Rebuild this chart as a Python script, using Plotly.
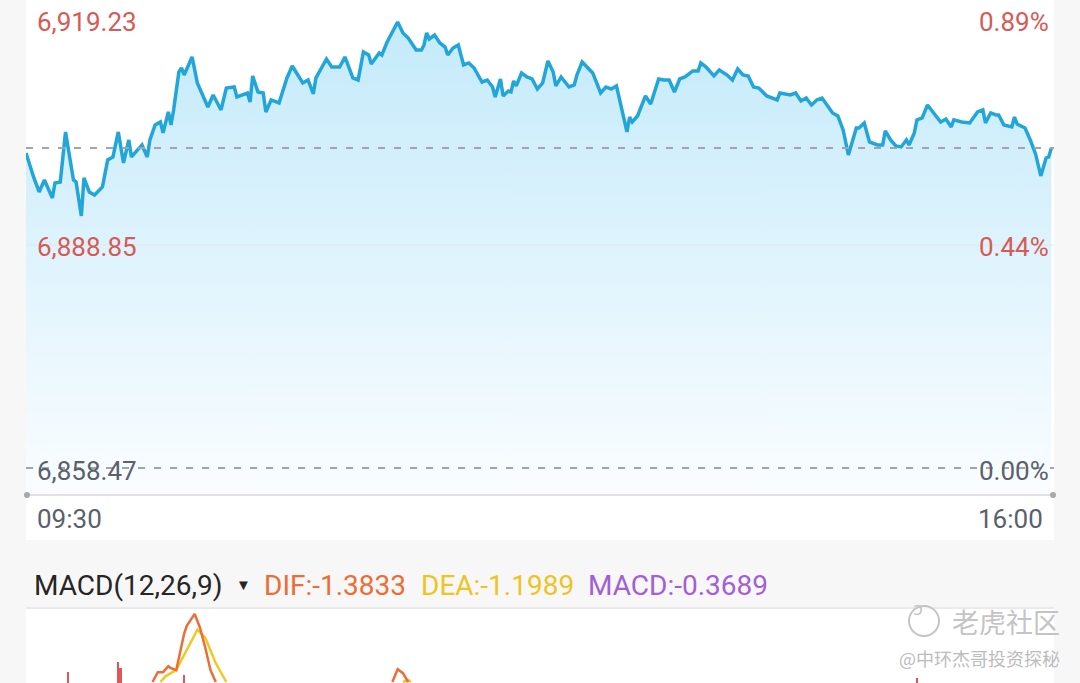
import plotly.graph_objects as go

# intraday samples: minutes after 09:30 and index level
minutes = [0, 1, 3, 5, 7, 10, 11, 13, 15, 18, 19, 21, 22, 24, 26, 29, 31, 33, 35, 37,
           39, 40, 44, 46, 47, 49, 51, 52, 54, 55, 56, 58, 59, 60, 63, 65, 69, 71, 74, 76,
           79, 80, 84, 85, 86, 88, 90, 91, 93, 96, 99, 101, 105, 107, 109, 110, 114, 116, 119, 121,
           124, 126, 128, 130, 131, 134, 135, 137, 141, 143, 145, 148, 150, 151, 152, 153, 155, 157, 159, 160,
           162, 164, 166, 168, 170, 173, 175, 177, 178, 180, 181, 183, 184, 185, 186, 188, 190, 192, 194, 196,
           198, 200, 201, 203, 204, 206, 208, 209, 211, 214, 215, 218, 220, 222, 224, 228, 229, 230, 232, 235,
           237, 240, 242, 244, 246, 248, 250, 253, 255, 256, 258, 261, 263, 266, 268, 270, 272, 274, 276, 278,
           281, 285, 286, 290, 292, 294, 296, 298, 300, 302, 306, 308, 310, 312, 315, 316, 318, 320, 323, 325,
           326, 328, 330, 332, 334, 335, 337, 338, 340, 342, 344, 347, 349, 351, 352, 355, 358, 361, 363, 364,
           366, 368, 369, 371, 374, 375, 376, 379, 381, 383, 385, 387, 388, 389]
prices = [6901.39, 6900.17, 6897.99, 6896.08, 6897.71, 6895.26, 6897.31, 6897.44, 6904.25, 6897.71,
          6897.44, 6892.81, 6897.99, 6896.08, 6895.67, 6896.76, 6900.44, 6900.85, 6904.25, 6900.03,
          6903.16, 6900.85, 6902.48, 6900.85, 6903.16, 6905.20, 6905.61, 6904.12, 6906.98, 6905.20,
          6907.25, 6912.42, 6912.97, 6912.01, 6914.47, 6910.93, 6907.66, 6909.29, 6907.25, 6910.24,
          6910.38, 6909.02, 6909.56, 6908.34, 6911.88, 6909.70, 6909.56, 6906.98, 6908.61, 6908.20,
          6911.61, 6913.24, 6910.93, 6911.33, 6909.43, 6911.61, 6914.19, 6913.10, 6913.10, 6914.47,
          6911.61, 6911.33, 6915.15, 6914.74, 6913.51, 6915.01, 6914.74, 6916.51, 6919.23, 6917.74,
          6917.05, 6915.42, 6915.42, 6916.10, 6917.74, 6916.92, 6917.46, 6916.37, 6915.83, 6914.74,
          6915.69, 6916.10, 6913.38, 6913.65, 6912.97, 6911.06, 6911.33, 6910.38, 6909.02, 6911.47,
          6909.15, 6909.84, 6909.70, 6911.20, 6910.52, 6912.29, 6911.74, 6911.47, 6910.11, 6910.93,
          6913.92, 6912.42, 6910.52, 6911.74, 6911.33, 6910.38, 6910.65, 6912.01, 6913.79, 6912.70,
          6912.29, 6909.56, 6910.38, 6910.11, 6910.52, 6904.25, 6906.29, 6905.61, 6906.43, 6909.15,
          6908.07, 6911.47, 6911.33, 6911.33, 6909.70, 6911.47, 6911.74, 6912.56, 6912.56, 6913.65,
          6913.10, 6911.88, 6912.70, 6912.01, 6911.33, 6912.83, 6912.01, 6911.88, 6910.38, 6910.24,
          6909.15, 6908.61, 6909.56, 6909.29, 6909.56, 6908.47, 6908.88, 6907.93, 6908.61, 6908.88,
          6906.84, 6906.43, 6904.52, 6901.12, 6904.80, 6904.80, 6905.48, 6902.89, 6902.48, 6902.48,
          6904.39, 6903.16, 6902.34, 6902.21, 6903.16, 6902.48, 6904.12, 6905.89, 6906.16, 6907.93,
          6906.98, 6905.61, 6906.02, 6904.93, 6905.89, 6905.61, 6905.48, 6906.98, 6907.25, 6905.48,
          6906.84, 6906.57, 6906.57, 6905.20, 6904.93, 6906.29, 6905.34, 6904.80, 6903.16, 6901.26,
          6898.26, 6900.71, 6900.85, 6902.07]

price_ticks = [6919.23, 6888.85, 6858.47]
price_labels = ["6,919.23", "6,888.85", "6,858.47"]
pct_labels = ["0.89%", "0.44%", "0.00%"]
ref_price = 6902.07
time_labels = ["09:30", "16:00"]

# MACD panel (only the top of it shows)
dif_min = [48, 50, 52, 54, 55, 57, 60, 61, 64, 66, 68, 70, 72, None, 139, 141, 143, 145]
dif_val = [2.1, 3.1, 3.1, 3.7, 3.5, 3.3, 7.0, 7.8, 9.0, 7.6, 5.6, 3.3, 2.1, None, 2.1, 3.4, 3.0, 2.1]
dea_min = [51, 53, 57, 61, 65, 68, 72, 76, None, 143, 145, 146]
dea_val = [2.1, 2.7, 3.3, 5.3, 7.4, 6.6, 4.0, 2.1, None, 2.1, 2.3, 2.1]
bar_min = [16, 35, 36, 60, 338]
bar_val = [3.1, 4.1, 3.5, 2.8, 2.5]
macd_title = "MACD(12,26,9)"
dif_text, dea_text, macd_text = "DIF:-1.3833", "DEA:-1.1989", "MACD:-0.3689"

W, H = 1080, 683
FONT = "Roboto"
RED = "#d65a56"
GRAY = "#5b606b"


def px(x):
    return x / W


def py(y):
    return 1 - y / H


fig = go.Figure()

fig.add_trace(go.Scatter(
    x=minutes, y=prices, mode="lines", fill="tozeroy",
    line=dict(color="#22a6da", width=3.5),
    fillgradient=dict(type="vertical", start=6854.79, stop=6919.23,
                      colorscale=[[0, "#fafdff"], [1, "#c4eafa"]]),
    xaxis="x", yaxis="y", showlegend=False, hoverinfo="skip"))

fig.add_trace(go.Bar(x=bar_min, y=bar_val, width=0.7, marker=dict(color="#e05555", line_width=0),
                     xaxis="x2", yaxis="y2", showlegend=False))
fig.add_trace(go.Scatter(x=dea_min, y=dea_val, mode="lines", line=dict(color="#f2c71f", width=2.5),
                         xaxis="x2", yaxis="y2", showlegend=False, connectgaps=False))
fig.add_trace(go.Scatter(x=dif_min, y=dif_val, mode="lines", line=dict(color="#ec6d35", width=2.5),
                         xaxis="x2", yaxis="y2", showlegend=False, connectgaps=False))

shapes = [
    # white card behind the price chart and time labels
    dict(type="rect", xref="paper", yref="paper", x0=px(26), x1=px(1054), y0=py(540), y1=1,
         fillcolor="white", line_width=0, layer="below"),
    # mid grid line
    dict(type="line", xref="x", yref="y", x0=0, x1=390, y0=price_ticks[1], y1=price_ticks[1],
         line=dict(color="#e6e6e6", width=1)),
    # dashed reference lines
    dict(type="line", xref="x", yref="y", x0=0, x1=390, y0=ref_price, y1=ref_price,
         line=dict(color="#a3a3ad", width=2, dash="7px,9px")),
    dict(type="line", xref="x", yref="y", x0=0, x1=390, y0=price_ticks[2], y1=price_ticks[2],
         line=dict(color="#a3a3ad", width=2, dash="7px,9px")),
    # bottom axis line with end dots
    dict(type="line", xref="paper", yref="paper", x0=px(26), x1=px(1054), y0=py(495), y1=py(495),
         line=dict(color="#e2e2e2", width=2)),
    dict(type="circle", xref="paper", yref="paper", x0=px(24), x1=px(30), y0=py(498), y1=py(492),
         fillcolor="#a8a8a8", line_width=0),
    dict(type="circle", xref="paper", yref="paper", x0=px(1050), x1=px(1056), y0=py(498), y1=py(492),
         fillcolor="#a8a8a8", line_width=0),
    # MACD header separator
    dict(type="line", xref="paper", yref="paper", x0=px(26), x1=px(1054), y0=py(608), y1=py(608),
         line=dict(color="#dcdcdc", width=1)),
    # watermark logo
    dict(type="circle", xref="paper", yref="paper", x0=px(909), x1=px(939), y0=py(636), y1=py(606),
         line=dict(color="#c4c4c4", width=2), fillcolor="rgba(255,255,255,0.6)"),
]

ann = []
label_y = [22, 247, 471]
label_col = [RED, RED, GRAY]
for i in range(3):
    ann.append(dict(x=px(35), y=py(label_y[i]), xref="paper", yref="paper", text=price_labels[i],
                    xanchor="left", yanchor="middle", showarrow=False,
                    font=dict(family=FONT, size=26, color=label_col[i])))
    ann.append(dict(x=px(1051), y=py(label_y[i]), xref="paper", yref="paper", text=pct_labels[i],
                    xanchor="right", yanchor="middle", showarrow=False,
                    font=dict(family=FONT, size=26, color=label_col[i])))
ann.append(dict(x=px(35), y=py(519), xref="paper", yref="paper", text=time_labels[0],
                xanchor="left", yanchor="middle", showarrow=False,
                font=dict(family=FONT, size=26, color=GRAY)))
ann.append(dict(x=px(1045), y=py(519), xref="paper", yref="paper", text=time_labels[1],
                xanchor="right", yanchor="middle", showarrow=False,
                font=dict(family=FONT, size=26, color=GRAY)))

header = [(32, macd_title, "#262626", 28), (234, "▼", "#262626", 15), (262, dif_text, "#ec6d35", 28),
          (419, dea_text, "#eec423", 28), (586, macd_text, "#a35fd6", 28)]
for x, t, c, s in header:
    ann.append(dict(x=px(x), y=py(585), xref="paper", yref="paper", text=t, xanchor="left",
                    yanchor="middle", showarrow=False, font=dict(family=FONT, size=s, color=c)))

ann.append(dict(x=px(925), y=py(621), xref="paper", yref="paper", text="ↄ", showarrow=False,
                font=dict(family="DejaVu Sans", size=18, color="#c4c4c4")))
ann.append(dict(x=px(1062), y=py(621), xref="paper", yref="paper", text="老虎社区", xanchor="right",
                yanchor="middle", showarrow=False,
                font=dict(family="Noto Sans CJK SC", size=27, color="#c4c4c4")))
ann.append(dict(x=px(1062), y=py(658), xref="paper", yref="paper", text="@中环杰哥投资探秘", xanchor="right",
                yanchor="middle", showarrow=False,
                font=dict(family="Noto Sans CJK SC", size=18, color="#bcbcbc")))

fig.update_layout(
    width=W, height=H, margin=dict(l=0, r=0, t=0, b=0),
    paper_bgcolor="#f7f7f7", plot_bgcolor="white",
    xaxis=dict(domain=[px(26), px(1054)], range=[0, 390], visible=False, fixedrange=True),
    yaxis=dict(domain=[py(495), 1], range=[6854.79, 6922.23], visible=False),
    xaxis2=dict(domain=[px(26), px(1054)], range=[0, 390], visible=False, anchor="y2"),
    yaxis2=dict(domain=[0, py(609)], range=[2.0, 9.5], visible=False, anchor="x2"),
    shapes=shapes, annotations=ann, bargap=0,
)

fig.write_html("out.html", config={"displayModeBar": False},
               post_script="document.body.style.margin='0';document.body.style.overflow='hidden';")
